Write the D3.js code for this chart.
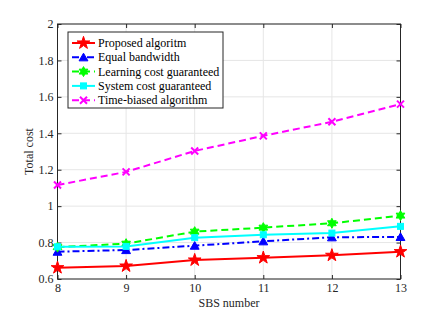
<!DOCTYPE html>
<html lang="en">
<head>
  <meta charset="UTF-8">
  <title>Total cost vs SBS number</title>
  <script src="https://d3js.org/d3.v7.min.js"></script>
</head>
<body style="margin: 0; overflow: hidden; background: #fff;">

<script>
  //Chart data
  const sbsNumbers = [8, 9, 10, 11, 12, 13];
  const proposed = [0.662, 0.671, 0.704, 0.717, 0.730, 0.750];
  const equalBandwidth = [0.750, 0.759, 0.783, 0.807, 0.829, 0.831];
  const learningCost = [0.775, 0.794, 0.860, 0.882, 0.906, 0.948];
  const systemCost = [0.777, 0.779, 0.827, 0.843, 0.852, 0.889];
  const timeBiased = [1.116, 1.188, 1.303, 1.386, 1.463, 1.560];
  const yTicks = [0.6, 0.8, 1, 1.2, 1.4, 1.6, 1.8, 2];

  const series = [
    { name: 'Proposed algoritm', values: proposed, color: '#ff0000', dash: null, marker: 'star' },
    { name: 'Equal bandwidth', values: equalBandwidth, color: '#0000ff', dash: '7,3,2,3', marker: 'triangle' },
    { name: 'Learning cost guaranteed', values: learningCost, color: '#00ff00', dash: '7,4', marker: 'hexstar' },
    { name: 'System cost guaranteed', values: systemCost, color: '#00ffff', dash: null, marker: 'square' },
    { name: 'Time-biased algorithm', values: timeBiased, color: '#ff00ff', dash: '7,4', marker: 'cross' }
  ];

  const width = 443, height = 313;
  const margin = { top: 24, right: 42.5, bottom: 34, left: 57.5 };
  const innerW = width - margin.left - margin.right;
  const innerH = height - margin.top - margin.bottom;

  const svg = d3.select('body').append('svg')
    .attr('width', width)
    .attr('height', height)
    .style('font-family', '"Liberation Serif", "Times New Roman", serif');

  const x = d3.scaleLinear().domain([8, 13]).range([0, innerW]);
  const y = d3.scaleLinear().domain([0.6, 2]).range([innerH, 0]);

  const g = svg.append('g').attr('transform', `translate(${margin.left},${margin.top})`);

  //Grid lines
  g.append('g').selectAll('line').data(sbsNumbers).join('line')
    .attr('x1', d => x(d)).attr('x2', d => x(d))
    .attr('y1', 0).attr('y2', innerH)
    .attr('stroke', '#e6e6e6').attr('stroke-width', 1);
  g.append('g').selectAll('line').data(yTicks).join('line')
    .attr('x1', 0).attr('x2', innerW)
    .attr('y1', d => y(d)).attr('y2', d => y(d))
    .attr('stroke', '#e6e6e6').attr('stroke-width', 1);

  //Axes, ticks inward
  const axisColor = '#262626';
  const styleAxis = sel => {
    sel.select('.domain').remove();
    sel.selectAll('.tick line').attr('stroke', axisColor);
    sel.selectAll('.tick text').attr('fill', axisColor).style('font-size', '12px')
      .style('font-family', '"Liberation Serif", "Times New Roman", serif');
  };
  g.append('g').attr('transform', `translate(0,${innerH})`)
    .call(d3.axisBottom(x).tickValues(sbsNumbers).tickFormat(d3.format('d')).tickSize(-4).tickPadding(4))
    .call(styleAxis);
  g.append('g')
    .call(d3.axisTop(x).tickValues(sbsNumbers).tickSize(-4).tickFormat(''))
    .call(styleAxis);
  g.append('g')
    .call(d3.axisLeft(y).tickValues(yTicks).tickFormat(d => d).tickSize(-4).tickPadding(4))
    .call(styleAxis);
  g.append('g').attr('transform', `translate(${innerW},0)`)
    .call(d3.axisRight(y).tickValues(yTicks).tickSize(-4).tickFormat(''))
    .call(styleAxis);

  //Box
  g.append('rect')
    .attr('width', innerW).attr('height', innerH)
    .attr('fill', 'none').attr('stroke', axisColor).attr('stroke-width', 1);

  //Axis labels
  svg.append('text')
    .attr('x', margin.left + innerW / 2).attr('y', 307)
    .attr('text-anchor', 'middle').attr('fill', axisColor)
    .style('font-size', '12px').text('SBS number');
  svg.append('text')
    .attr('transform', `translate(33,${margin.top + innerH / 2}) rotate(-90)`)
    .attr('text-anchor', 'middle').attr('fill', axisColor)
    .style('font-size', '12px').text('Total cost');

  //Marker drawing
  const drawMarker = function(sel, s, cx, cy) {
    const m = sel.append('g').attr('transform', `translate(${cx},${cy})`);
    switch (s.marker) {
      case 'star':
        m.append('path').attr('d', d3.symbol(d3.symbolStar, 50)())
          .attr('fill', s.color).attr('stroke', s.color).attr('stroke-width', 1);
        break;
      case 'triangle':
        m.append('path').attr('d', d3.symbol(d3.symbolTriangle, 34)())
          .attr('transform', 'translate(0,1)')
          .attr('fill', s.color).attr('stroke', s.color).attr('stroke-width', 1);
        break;
      case 'hexstar': {
        const pts = [];
        for (let i = 0; i < 12; i++) {
          const r = i % 2 === 0 ? 5 : 2.8;
          const a = Math.PI / 6 * i - Math.PI / 2;
          pts.push([r * Math.cos(a), r * Math.sin(a)]);
        }
        m.append('polygon').attr('points', pts.map(p => p.join(',')).join(' '))
          .attr('fill', s.color).attr('stroke', s.color).attr('stroke-width', 1);
        break;
      }
      case 'square':
        m.append('rect').attr('x', -3).attr('y', -3).attr('width', 6).attr('height', 6)
          .attr('fill', s.color).attr('stroke', s.color).attr('stroke-width', 1);
        break;
      case 'cross':
        m.append('path').attr('d', 'M-3.5,-3.5L3.5,3.5M-3.5,3.5L3.5,-3.5')
          .attr('stroke', s.color).attr('stroke-width', 2);
        break;
    }
  };

  //Lines
  const line = d3.line().x((d, i) => x(sbsNumbers[i])).y(d => y(d));
  series.forEach(s => {
    g.append('path')
      .datum(s.values)
      .attr('d', line)
      .attr('fill', 'none')
      .attr('stroke', s.color)
      .attr('stroke-width', 2)
      .attr('stroke-dasharray', s.dash);
    s.values.forEach((v, i) => drawMarker(g, s, x(sbsNumbers[i]), y(v)));
  });

  //Legend
  const legend = svg.append('g').attr('transform', 'translate(68,32)');
  legend.append('rect')
    .attr('width', 155).attr('height', 76)
    .attr('fill', '#fff').attr('stroke', axisColor).attr('stroke-width', 1);
  series.forEach((s, i) => {
    const ly = 11 + i * 14.3;
    legend.append('line')
      .attr('x1', 4).attr('x2', 27).attr('y1', ly).attr('y2', ly)
      .attr('stroke', s.color).attr('stroke-width', 2)
      .attr('stroke-dasharray', s.dash);
    drawMarker(legend, s, 15.5, ly);
    legend.append('text')
      .attr('x', 30).attr('y', ly + 4)
      .attr('fill', '#000').style('font-size', '12px')
      .text(s.name);
  });
</script>

</body>
</html>
